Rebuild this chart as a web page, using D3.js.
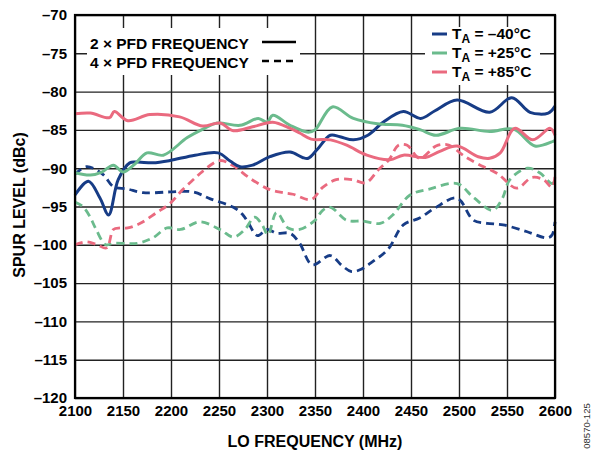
<!DOCTYPE html>
<html>
<head>
<meta charset="utf-8">
<script src="https://cdn.jsdelivr.net/npm/d3@7"></script>
<style>
  body { margin: 0; background: #fff; }
  svg { display: block; font-family: Arial, "Liberation Sans", sans-serif; }
</style>
</head>
<body>
<div id="chart"></div>
<script>
// LO frequency (MHz) / spur level (dBc)
const xTicks = [2100, 2150, 2200, 2250, 2300, 2350, 2400, 2450, 2500, 2550, 2600];
const yTicks = [-120, -115, -110, -105, -100, -95, -90, -85, -80, -75, -70];

// 2 x PFD, TA = -40C
const blue2x = [
  [2100, -93.5], [2114, -91.7], [2126, -93.9], [2135, -96.1], [2145, -91.5],
  [2157, -89.3], [2165, -89.2], [2181, -89.3], [2199, -89.0], [2225, -88.3],
  [2249, -88.0], [2262, -89.1], [2272, -89.8], [2285, -89.6], [2303, -88.5],
  [2324, -87.9], [2337, -88.6], [2343, -88.7], [2352, -87.6], [2366, -85.7],
  [2376, -85.9], [2390, -86.3], [2405, -85.7], [2421, -84.0], [2442, -82.6],
  [2460, -83.5], [2475, -82.5], [2498, -81.1], [2532, -82.7], [2555, -80.8],
  [2574, -82.7], [2593, -82.8], [2600, -81.9]
];
// 2 x PFD, TA = +25C
const green2x = [
  [2100, -90.6], [2116, -90.9], [2128, -90.5], [2140, -89.6], [2150, -90.5],
  [2162, -89.5], [2175, -88.0], [2192, -88.3], [2217, -86.0], [2235, -84.8],
  [2248, -84.1], [2272, -84.4], [2291, -83.5], [2300, -84.0], [2306, -83.1],
  [2324, -84.4], [2343, -85.3], [2350, -85.0], [2368, -82.0], [2390, -83.5],
  [2415, -84.2], [2441, -84.4], [2460, -85.0], [2476, -85.7], [2501, -84.8],
  [2532, -85.2], [2557, -84.9], [2579, -87.1], [2598, -86.5], [2600, -86.4]
];
// 2 x PFD, TA = +85C
const pink2x = [
  [2100, -82.9], [2116, -82.8], [2136, -83.4], [2141, -82.6], [2155, -83.8],
  [2178, -83.0], [2209, -83.3], [2233, -84.5], [2251, -84.1], [2265, -85.1],
  [2285, -84.6], [2306, -84.0], [2324, -84.8], [2334, -85.4], [2346, -86.2],
  [2366, -86.3], [2383, -87.0], [2404, -88.3], [2428, -88.9], [2442, -88.3],
  [2465, -88.6], [2480, -87.8], [2498, -87.1], [2520, -88.5], [2532, -88.7],
  [2543, -88.0], [2558, -84.8], [2577, -86.3], [2595, -84.8], [2600, -85.7]
];
// 4 x PFD, TA = -40C
const blue4x = [
  [2100, -90.8], [2112, -89.8], [2129, -90.8], [2140, -92.4], [2154, -92.7],
  [2171, -93.2], [2199, -93.1], [2223, -93.1], [2241, -94.0], [2265, -95.1],
  [2275, -96.1], [2280, -97.0], [2290, -98.8], [2300, -98.0], [2310, -98.5],
  [2324, -98.5], [2334, -99.8], [2347, -102.6], [2366, -101.4], [2378, -102.7],
  [2388, -103.5], [2398, -103.2], [2410, -102.2], [2426, -100.6], [2442, -97.4],
  [2459, -96.5], [2475, -95.2], [2498, -93.9], [2515, -96.8], [2529, -97.2],
  [2546, -97.4], [2571, -98.3], [2592, -99.1], [2597, -98.7], [2600, -97.0]
];
// 4 x PFD, TA = +25C
const green4x = [
  [2100, -94.4], [2108, -95.0], [2115, -96.2], [2122, -98.0], [2132, -100.0],
  [2140, -99.8], [2165, -99.8], [2181, -99.1], [2196, -97.8], [2210, -98.0],
  [2230, -97.0], [2251, -98.0], [2265, -99.0], [2277, -98.0], [2287, -96.4],
  [2295, -97.4], [2301, -98.7], [2310, -95.8], [2322, -97.8], [2334, -98.0],
  [2350, -96.8], [2358, -95.5], [2366, -95.1], [2383, -96.8], [2400, -96.9],
  [2418, -97.2], [2431, -96.1], [2449, -93.5], [2470, -92.7], [2498, -92.0],
  [2515, -93.8], [2535, -95.5], [2545, -94.0], [2553, -91.5], [2571, -90.0],
  [2584, -90.6], [2597, -92.0], [2600, -91.5]
];
// 4 x PFD, TA = +85C
const pink4x = [
  [2100, -100.0], [2112, -99.6], [2123, -100.0], [2133, -100.4], [2140, -98.0],
  [2147, -97.8], [2155, -97.8], [2168, -97.2], [2185, -95.8], [2199, -94.6],
  [2212, -92.8], [2225, -91.3], [2233, -90.4], [2251, -89.0], [2265, -89.7],
  [2282, -91.3], [2303, -92.8], [2317, -93.2], [2327, -93.4], [2346, -94.1],
  [2358, -92.5], [2372, -91.5], [2389, -91.5], [2403, -91.9], [2416, -90.2],
  [2427, -88.9], [2437, -87.0], [2446, -87.0], [2459, -88.7], [2476, -87.1],
  [2486, -86.9], [2493, -87.2], [2504, -88.3], [2519, -89.4], [2540, -90.7],
  [2560, -92.6], [2576, -91.2], [2588, -91.5], [2597, -92.5], [2600, -91.0]
];

const tempLabels = ["\u201340\u00B0C", "+25\u00B0C", "+85\u00B0C"];
const colors = ["#173c86", "#6bbb8d", "#ea6a7f"];

const svgWidth = 592, svgHeight = 452;
const marginLeft = 75, marginTop = 15, marginRight = 37, marginBottom = 54;
const width = svgWidth - marginLeft - marginRight;
const height = svgHeight - marginTop - marginBottom;

const svg = d3.select("#chart").append("svg")
  .attr("width", svgWidth)
  .attr("height", svgHeight);

const xScale = d3.scaleLinear().domain([2100, 2600]).range([0, width]);
const yScale = d3.scaleLinear().domain([-120, -70]).range([height, 0]);

const chart = svg.append("g")
  .attr("transform", `translate(${marginLeft},${marginTop})`);

const fmt = (d) => String(d).replace("-", "\u2013");

// grid
chart.append("g")
  .attr("transform", `translate(0,${height})`)
  .call(d3.axisBottom(xScale).tickValues(xTicks).tickSize(-height).tickFormat(""))
  .call((g) => g.select(".domain").remove())
  .call((g) => g.selectAll(".tick line").attr("stroke", "#222").attr("stroke-width", 1.4));

chart.append("g")
  .call(d3.axisLeft(yScale).tickValues(yTicks).tickSize(-width).tickFormat(""))
  .call((g) => g.select(".domain").remove())
  .call((g) => g.selectAll(".tick line").attr("stroke", "#222").attr("stroke-width", 1.4));

// legend backgrounds (hide the grid)
chart.append("rect").attr("x", 12).attr("y", 13).attr("width", 213).attr("height", 47).attr("fill", "#fff");
chart.append("rect").attr("x", 350).attr("y", 12).attr("width", 115).attr("height", 58).attr("fill", "#fff");

// curves
const line = d3.line()
  .x((d) => xScale(d[0]))
  .y((d) => yScale(d[1]))
  .curve(d3.curveCatmullRom.alpha(0.5));

const dashedSeries = [blue4x, green4x, pink4x];
const solidSeries = [blue2x, green2x, pink2x];

chart.append("g").selectAll("path")
  .data(dashedSeries)
  .join("path")
  .attr("d", line)
  .attr("fill", "none")
  .attr("stroke", (d, i) => colors[i])
  .attr("stroke-width", 2.8)
  .attr("stroke-dasharray", "8,5");

chart.append("g").selectAll("path")
  .data(solidSeries)
  .join("path")
  .attr("d", line)
  .attr("fill", "none")
  .attr("stroke", (d, i) => colors[i])
  .attr("stroke-width", 3);

// frame
chart.append("rect")
  .attr("width", width).attr("height", height)
  .attr("fill", "none").attr("stroke", "#000").attr("stroke-width", 2.2);

// tick labels
chart.append("g")
  .call(d3.axisLeft(yScale).tickValues(yTicks).tickSize(0).tickPadding(8).tickFormat(fmt))
  .call((g) => g.select(".domain").remove())
  .call((g) => g.selectAll("text")
    .attr("font-family", "Arial, 'Liberation Sans', sans-serif")
    .attr("font-size", 15).attr("font-weight", "bold").attr("fill", "#000"));

chart.append("g")
  .attr("transform", `translate(0,${height})`)
  .call(d3.axisBottom(xScale).tickValues(xTicks).tickSize(0).tickPadding(7).tickFormat(d3.format("d")))
  .call((g) => g.select(".domain").remove())
  .call((g) => g.selectAll("text")
    .attr("font-family", "Arial, 'Liberation Sans', sans-serif")
    .attr("font-size", 15).attr("font-weight", "bold").attr("fill", "#000"));

// axis titles
svg.append("text")
  .attr("x", 315).attr("y", 447)
  .attr("text-anchor", "middle")
  .attr("font-size", 16).attr("font-weight", "bold")
  .text("LO FREQUENCY (MHz)");

svg.append("text")
  .attr("transform", `translate(25,205) rotate(-90)`)
  .attr("text-anchor", "middle")
  .attr("font-size", 16).attr("font-weight", "bold")
  .text("SPUR LEVEL (dBc)");

svg.append("text")
  .attr("transform", "translate(590,426) rotate(-90)")
  .attr("text-anchor", "middle")
  .attr("font-size", 9.5).attr("fill", "#333")
  .text("08570-125");

// legend: line styles
const styleLegend = chart.append("g");
const styleRows = [{ label: "2 \u00D7 PFD FREQUENCY", dash: null }, { label: "4 \u00D7 PFD FREQUENCY", dash: "7,5" }];
styleRows.forEach((r, i) => {
  const base = 34 + i * 19;
  styleLegend.append("text")
    .attr("x", 15).attr("y", base)
    .attr("font-size", 15.5).attr("font-weight", "bold")
    .text(r.label);
  styleLegend.append("line")
    .attr("x1", 187).attr("x2", 221).attr("y1", base - 7).attr("y2", base - 7)
    .attr("stroke", "#000").attr("stroke-width", 2.5)
    .attr("stroke-dasharray", r.dash);
});

// legend: temperature
const tempLegend = chart.append("g");
tempLabels.forEach((t, i) => {
  const y = 19 + i * 19;
  tempLegend.append("line")
    .attr("x1", 357).attr("x2", 372).attr("y1", y).attr("y2", y)
    .attr("stroke", colors[i]).attr("stroke-width", 3);
  const txt = tempLegend.append("text")
    .attr("x", 377).attr("y", y + 5)
    .attr("font-size", 15.5).attr("font-weight", "bold");
  txt.append("tspan").text("T");
  txt.append("tspan").attr("dy", 4).attr("font-size", 12).text("A");
  txt.append("tspan").attr("dy", -4).text(" = " + t);
});
</script>
</body>
</html>
